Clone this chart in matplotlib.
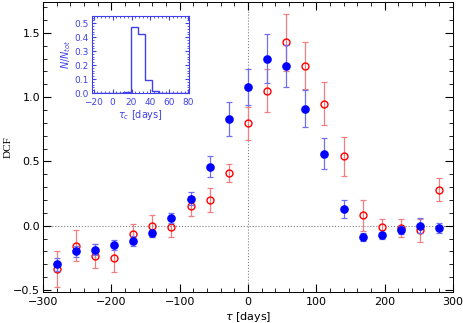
import numpy as np
import matplotlib
matplotlib.use("Agg")
import matplotlib.pyplot as plt
from matplotlib.ticker import MultipleLocator

# DCF values
tau = [-280, -252, -224, -196, -168, -140, -112, -84, -56, -28, 0,
       28, 56, 84, 112, 140, 168, 196, 224, 252, 280]

dcf_blue = [-0.30, -0.20, -0.185, -0.15, -0.12, -0.06, 0.06, 0.21, 0.46, 0.83, 1.08,
            1.30, 1.24, 0.91, 0.56, 0.13, -0.09, -0.075, -0.035, 0.0, -0.015]
err_blue = [0.05, 0.04, 0.04, 0.04, 0.04, 0.03, 0.04, 0.05, 0.08, 0.13, 0.14,
            0.19, 0.165, 0.145, 0.12, 0.07, 0.03, 0.03, 0.03, 0.06, 0.04]

dcf_red = [-0.34, -0.155, -0.235, -0.25, -0.065, 0.0, -0.01, 0.155, 0.20, 0.41, 0.795,
           1.05, 1.425, 1.245, 0.95, 0.54, 0.08, -0.01, -0.02, -0.035, 0.28]
err_red = [0.14, 0.12, 0.09, 0.11, 0.08, 0.085, 0.08, 0.08, 0.09, 0.07, 0.13,
           0.165, 0.22, 0.18, 0.17, 0.15, 0.12, 0.06, 0.07, 0.09, 0.09]

# inset histogram of centroid lags
hist_edges = [11.5, 19, 26.5, 34, 41.5, 49]
hist_vals = [0.01, 0.47, 0.42, 0.095, 0.012]

fig = plt.figure(figsize=(4.63, 3.23), dpi=100)
ax = fig.add_axes([0.093, 0.096, 0.885, 0.898])

ax.axhline(0, color='gray', ls=':', lw=0.8, zorder=0)
ax.axvline(0, color='gray', ls=':', lw=0.8, zorder=0)

ax.errorbar(tau, dcf_red, yerr=err_red, fmt='none', ecolor='#f08080',
            elinewidth=0.9, capsize=2, capthick=0.9)
ax.plot(tau, dcf_red, 'o', mfc='none', mec='red', ms=5, mew=1.0)
ax.errorbar(tau, dcf_blue, yerr=err_blue, fmt='none', ecolor='#7070f0',
            elinewidth=0.9, capsize=2, capthick=0.9)
ax.plot(tau, dcf_blue, 'o', color='blue', ms=5.2)

ax.set_xlim(-300, 300)
ax.set_ylim(-0.515, 1.74)
ax.xaxis.set_major_locator(MultipleLocator(100))
ax.xaxis.set_minor_locator(MultipleLocator(20))
ax.yaxis.set_major_locator(MultipleLocator(0.5))
ax.yaxis.set_minor_locator(MultipleLocator(0.1))
ax.tick_params(which='both', direction='in', top=True, right=True, labelsize=8)
ax.tick_params(axis='y', pad=2)
ax.tick_params(which='major', length=6)
ax.tick_params(which='minor', length=3)
ax.set_xlabel(r'$\tau$ [days]', fontsize=8, labelpad=2)
ax.set_ylabel('DCF', fontsize=8, family='Liberation Serif')
ax.yaxis.set_label_coords(-0.075, 0.5)
for s in ax.spines.values():
    s.set_linewidth(0.7)

# inset
c = '#4040e8'
ins = fig.add_axes([0.198, 0.712, 0.211, 0.238])
ins.stairs(hist_vals, hist_edges, color=c, lw=1.0)
ins.plot([-22, hist_edges[0]], [0, 0], color=c, lw=1.0)
ins.plot([hist_edges[-1], 81], [0, 0], color=c, lw=1.0)
ins.set_xlim(-22, 81)
ins.set_ylim(0, 0.55)
ins.xaxis.set_major_locator(MultipleLocator(20))
ins.xaxis.set_minor_locator(MultipleLocator(4))
ins.yaxis.set_major_locator(MultipleLocator(0.1))
ins.yaxis.set_minor_locator(MultipleLocator(0.02))
ins.tick_params(which='both', direction='in', top=True, right=True, labelsize=6.5,
                colors=c)
ins.tick_params(axis='x', pad=3.5)
ins.tick_params(axis='y', pad=2)
ins.tick_params(which='major', length=3)
ins.tick_params(which='minor', length=1.5)
ins.set_xlabel(r'$\tau_c$ [days]', fontsize=7, color=c, labelpad=1)
ins.set_ylabel(r'$N/N_{tot}$', fontsize=7, color=c, labelpad=1)
for s in ins.spines.values():
    s.set_color(c)
    s.set_linewidth(0.8)

fig.savefig('out.png', dpi=100)
